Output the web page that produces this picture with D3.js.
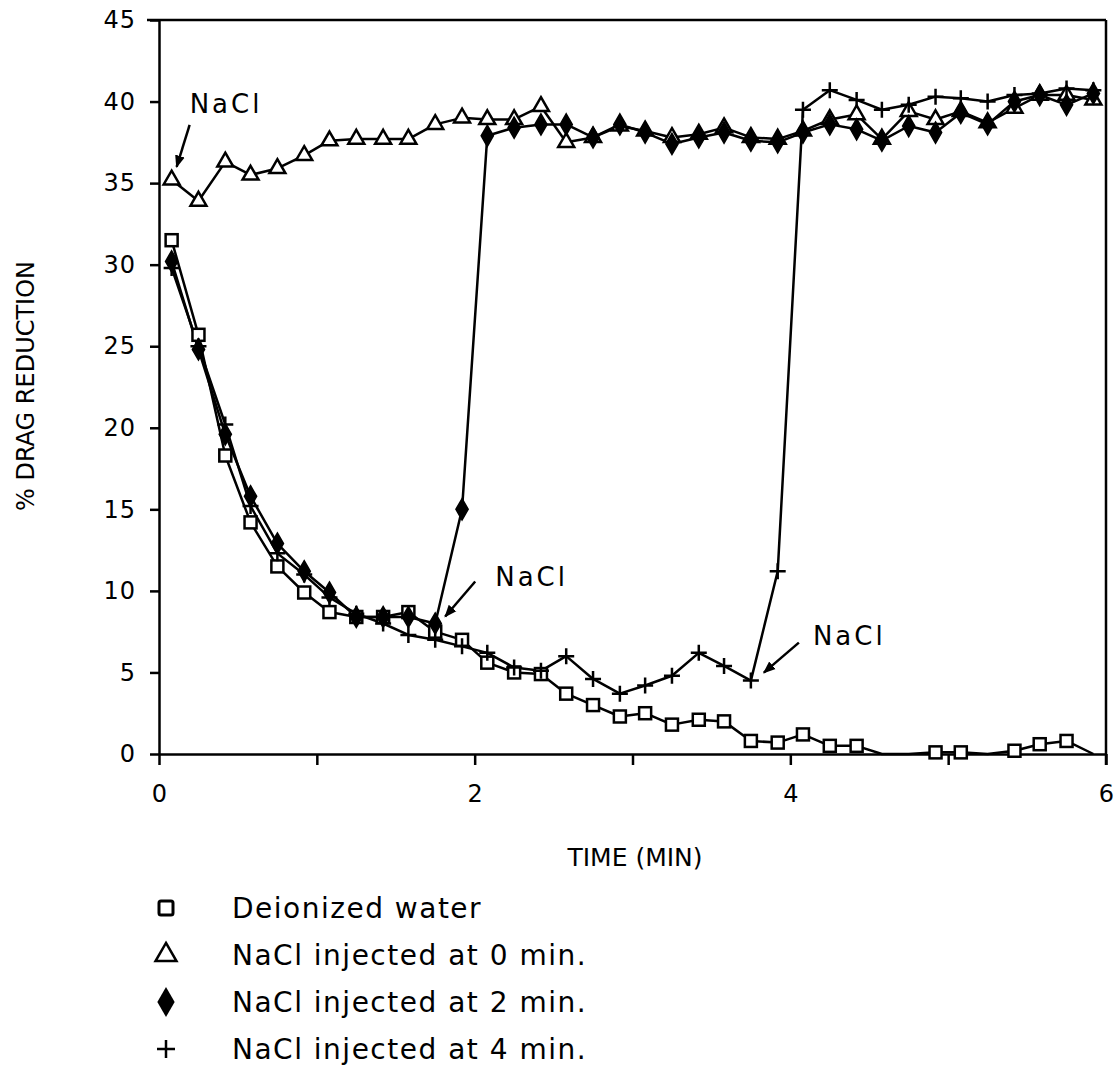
<!DOCTYPE html>
<html>
<head>
<meta charset="utf-8">
<script src="https://cdn.jsdelivr.net/npm/d3@7"></script>
<style>
  body { margin: 0; background: #fff; }
  text { font-family: "DejaVu Sans", sans-serif; fill: #000; }
</style>
</head>
<body>
<script>
// time of each reading (min)
const times = [0.08, 0.25, 0.42, 0.58, 0.75, 0.92, 1.08, 1.25, 1.42, 1.58, 1.75, 1.92,
  2.08, 2.25, 2.42, 2.58, 2.75, 2.92, 3.08, 3.25, 3.42, 3.58, 3.75, 3.92,
  4.08, 4.25, 4.42, 4.58, 4.75, 4.92, 5.08, 5.25, 5.42, 5.58, 5.75, 5.92];

// % drag reduction
const water = [31.5, 25.7, 18.3, 14.2, 11.5, 9.9, 8.7, 8.4, 8.4, 8.7, 7.5, 7.0,
  5.6, 5.0, 4.9, 3.7, 3.0, 2.3, 2.5, 1.8, 2.1, 2.0, 0.8, 0.7,
  1.2, 0.5, 0.5, 0, 0, 0.1, 0.1, 0, 0.2, 0.6, 0.8, 0];
const nacl0 = [35.2, 33.9, 36.3, 35.5, 35.9, 36.7, 37.6, 37.7, 37.7, 37.7, 38.6, 39.0,
  38.9, 38.9, 39.7, 37.5, 37.8, 38.5, 38.2, 37.8, 38.0, 38.4, 37.8, 37.7,
  38.2, 38.9, 39.2, 37.7, 39.4, 38.9, 39.4, 38.7, 39.6, 40.4, 40.4, 40.1];
const nacl2 = [30.2, 24.8, 19.6, 15.8, 12.9, 11.2, 9.9, 8.4, 8.4, 8.4, 8.0, 15.0,
  37.9, 38.4, 38.6, 38.6, 37.8, 38.6, 38.1, 37.4, 37.8, 38.1, 37.6, 37.5,
  38.1, 38.6, 38.3, 37.6, 38.5, 38.1, 39.3, 38.6, 40.0, 40.4, 39.8, 40.5];
const nacl4 = [29.8, 25.0, 20.2, 15.2, 12.3, 11.0, 9.6, 8.6, 8.0, 7.3, 7.0, 6.6,
  6.2, 5.3, 5.1, 6.0, 4.6, 3.7, 4.2, 4.8, 6.2, 5.4, 4.5, 11.2,
  39.5, 40.7, 40.1, 39.5, 39.8, 40.3, 40.2, 40.0, 40.4, 40.5, 40.8, 40.7];

const seriesNames = ["Deionized water", "NaCl  injected at 0 min.", "NaCl injected at 2 min.", "NaCl injected at 4 min."];
const yTicks = [0, 5, 10, 15, 20, 25, 30, 35, 40, 45];
const xTicks = [0, 1, 2, 3, 4, 5, 6];
const xLabels = [0, 2, 4, 6];

// NaCl injection notes: point [time, value] the arrow points at
const notes = [[0.08, 35.2], [1.75, 8.0], [3.75, 4.5]];

const w = 1116, h = 1078;
const svg = d3.select("body").append("svg").attr("width", w).attr("height", h);

const x = d3.scaleLinear().domain([0, 6]).range([159, 1106]);
const y = d3.scaleLinear().domain([0, 45]).range([754, 20]);

// axes
svg.append("g")
  .attr("transform", "translate(" + x(0) + ",0)")
  .call(d3.axisLeft(y).tickValues(yTicks).tickSize(9).tickPadding(14).tickSizeOuter(0))
  .call(g => g.select(".domain").attr("stroke-width", 2.5))
  .call(g => g.selectAll(".tick line").attr("stroke-width", 2.5))
  .call(g => g.selectAll("text").attr("font-size", "24px").attr("letter-spacing", "1px")
    .attr("font-family", "DejaVu Sans"));

svg.append("g")
  .attr("transform", "translate(0," + y(0) + ")")
  .call(d3.axisBottom(x).tickValues(xTicks).tickSize(11).tickPadding(20).tickSizeOuter(0)
    .tickFormat(d => xLabels.includes(d) ? d : ""))
  .call(g => g.select(".domain").attr("stroke-width", 2.5))
  .call(g => g.selectAll(".tick line").attr("stroke-width", 2.5))
  .call(g => g.selectAll("text").attr("font-size", "24px").attr("font-family", "DejaVu Sans"));

// frame top / right
svg.append("line").attr("x1", x(0) - 12).attr("x2", x(6)).attr("y1", y(45)).attr("y2", y(45))
  .attr("stroke", "#000").attr("stroke-width", 2.5);
svg.append("line").attr("x1", x(6)).attr("x2", x(6)).attr("y1", y(45)).attr("y2", y(0) + 11)
  .attr("stroke", "#000").attr("stroke-width", 2.5);

// axis titles
svg.append("text")
  .attr("transform", "translate(34,386) rotate(-90)")
  .attr("text-anchor", "middle")
  .attr("font-size", "24px")
  .text("% DRAG REDUCTION");

svg.append("text")
  .attr("x", 635).attr("y", 866)
  .attr("text-anchor", "middle")
  .attr("font-size", "25px")
  .text("TIME (MIN)");

// lines
const line = d3.line()
  .defined(d => d != null)
  .x((d, i) => x(times[i]))
  .y(d => y(d));

const allSeries = [water, nacl0, nacl2, nacl4];
allSeries.forEach(s => {
  svg.append("path")
    .attr("d", line(s))
    .attr("fill", "none")
    .attr("stroke", "#000")
    .attr("stroke-width", 2.5)
    .attr("stroke-linejoin", "round");
});

// marker shapes
const plusPath = "M-8,0H8M0,-8V8";
function drawMarker(g, kind) {
  if (kind === 0) {
    g.append("rect").attr("x", -6).attr("y", -6).attr("width", 12).attr("height", 12)
      .attr("fill", "#fff").attr("stroke", "#000").attr("stroke-width", 2.5);
  } else if (kind === 1) {
    g.append("path").attr("d", d3.symbol().type(d3.symbolTriangle).size(110)())
      .attr("fill", "#fff").attr("stroke", "#000").attr("stroke-width", 2.5);
  } else if (kind === 2) {
    g.append("path").attr("d", d3.symbol().type(d3.symbolDiamond).size(130)())
      .attr("fill", "#000").attr("stroke", "#000").attr("stroke-width", 1.5);
  } else {
    g.append("path").attr("d", plusPath)
      .attr("fill", "none").attr("stroke", "#000").attr("stroke-width", 2.5);
  }
}

allSeries.forEach((s, k) => {
  s.forEach((v, i) => {
    if (v == null) return;
    if (k === 0 && v === 0) return;
    const g = svg.append("g").attr("transform", "translate(" + x(times[i]) + "," + y(v) + ")");
    drawMarker(g, k);
  });
});

// NaCl annotations with arrows
svg.append("defs").append("marker")
  .attr("id", "arr").attr("viewBox", "0 0 10 10").attr("refX", 9).attr("refY", 5)
  .attr("markerWidth", 5).attr("markerHeight", 5).attr("orient", "auto")
  .append("path").attr("d", "M0,1L10,5L0,9Z").attr("fill", "#000");

const noteOffsets = [
  { tip: [5, -13], start: [18, -55], text: [18, -67] },
  { tip: [10, -7], start: [40, -42], text: [60, -38] },
  { tip: [13, -8], start: [48, -38], text: [62, -36] }
];
notes.forEach((n, i) => {
  const px = x(n[0]), py = y(n[1]);
  const o = noteOffsets[i];
  svg.append("line")
    .attr("x1", px + o.start[0]).attr("y1", py + o.start[1])
    .attr("x2", px + o.tip[0]).attr("y2", py + o.tip[1])
    .attr("stroke", "#000").attr("stroke-width", 2.5)
    .attr("marker-end", "url(#arr)");
  svg.append("text")
    .attr("x", px + o.text[0]).attr("y", py + o.text[1])
    .attr("font-size", "26px")
    .attr("letter-spacing", "3px")
    .text("NaCl");
});

// legend
const legY = [908, 955, 1002, 1049];
seriesNames.forEach((name, i) => {
  const g = svg.append("g").attr("transform", "translate(166," + legY[i] + ")");
  if (i === 2) {
    g.append("path").attr("d", d3.symbol().type(d3.symbolDiamond).size(260)()).attr("fill", "#000");
  } else if (i === 3) {
    g.append("path").attr("d", "M-9,0H9M0,-9V9").attr("stroke", "#000").attr("stroke-width", 2.5);
  } else if (i === 1) {
    g.append("path").attr("d", d3.symbol().type(d3.symbolTriangle).size(190)())
      .attr("fill", "#fff").attr("stroke", "#000").attr("stroke-width", 2.5);
  } else {
    g.append("rect").attr("x", -7).attr("y", -7).attr("width", 14).attr("height", 14).attr("rx", 2)
      .attr("fill", "#fff").attr("stroke", "#000").attr("stroke-width", 3);
  }
  svg.append("text")
    .attr("x", 232).attr("y", legY[i] + 10)
    .attr("font-size", "28px")
    .attr("letter-spacing", "1.5px")
    .text(name);
});
</script>
</body>
</html>
